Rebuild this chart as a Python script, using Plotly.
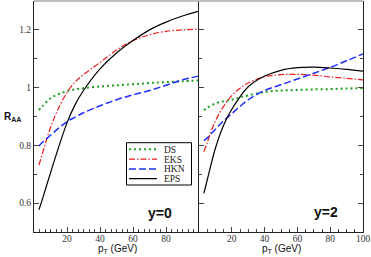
import plotly.graph_objects as go

pt = [3, 5, 10, 15, 20, 25, 30, 40, 50, 60, 70, 80, 90, 100]

# y = 0 panel
ds_y0 = [0.922, 0.935, 0.963, 0.978, 0.988, 0.994, 0.998, 1.004, 1.008, 1.012, 1.016, 1.019, 1.022, 1.025]
eks_y0 = [0.732, 0.77, 0.862, 0.93, 0.983, 1.02, 1.045, 1.087, 1.13, 1.163, 1.183, 1.195, 1.2, 1.203]
hkn_y0 = [0.798, 0.81, 0.835, 0.86, 0.882, 0.898, 0.913, 0.937, 0.958, 0.975, 0.99, 1.008, 1.027, 1.04]
eps_y0 = [0.577, 0.612, 0.705, 0.795, 0.878, 0.942, 0.99, 1.065, 1.12, 1.163, 1.2, 1.227, 1.248, 1.265]

# y = 2 panel
ds_y2 = [0.922, 0.93, 0.945, 0.953, 0.958, 0.966, 0.973, 0.985, 0.99, 0.992, 0.994, 0.995, 0.997, 0.998]
eks_y2 = [0.778, 0.81, 0.885, 0.935, 0.972, 0.998, 1.016, 1.038, 1.045, 1.046, 1.043, 1.037, 1.032, 1.027]
hkn_y2 = [0.816, 0.826, 0.856, 0.885, 0.91, 0.935, 0.958, 0.99, 1.01, 1.03, 1.05, 1.07, 1.093, 1.117]
eps_y2 = [0.634, 0.68, 0.79, 0.87, 0.925, 0.968, 1.003, 1.04, 1.06, 1.069, 1.071, 1.068, 1.063, 1.057]

names = ["DS", "EKS", "HKN", "EPS"]
colors = ["#1fa01f", "#ee1c1c", "#1f2fff", "#000000"]
dashes = ["2px,3px", "6px,2px,1.5px,2px", "7px,3px", "solid"]
widths = [2, 1.2, 1.5, 1.2]

y_tickvals = [0.6, 0.8, 1.0, 1.2]
y_ticktext = ["0.6", "0.8", "1", "1.2"]
x_tickvals_left = [20, 40, 60, 80]
x_tickvals_right = [20, 40, 60, 80, 100]

# legend key sample: unit span on its own small axis, one row per series
key_x = [0, 1]
key_rows = [0, 1, 2, 3]

W, H = 371, 257
L, R, T, B = 34, 8, 1, 25
PW, PH = W - L - R, H - T - B


def px_x(x):
    return (x - L) / PW


def px_y(y):
    return (H - B - y) / PH


fig = go.Figure()
left = [ds_y0, eks_y0, hkn_y0, eps_y0]
right = [ds_y2, eks_y2, hkn_y2, eps_y2]
for i in range(4):
    fig.add_trace(go.Scatter(x=pt, y=left[i], mode="lines", name=names[i],
                             line=dict(color=colors[i], dash=dashes[i], width=widths[i], shape="spline"),
                             xaxis="x", yaxis="y", showlegend=False))
for i in range(4):
    fig.add_trace(go.Scatter(x=pt, y=right[i], mode="lines", name=names[i],
                             line=dict(color=colors[i], dash=dashes[i], width=widths[i], shape="spline"),
                             xaxis="x2", yaxis="y2", showlegend=False))
for i in range(4):
    fig.add_trace(go.Scatter(x=key_x, y=[key_rows[i]] * 2, mode="lines", name=names[i],
                             line=dict(color=colors[i], dash=dashes[i], width=widths[i]),
                             xaxis="x3", yaxis="y3", showlegend=False, hoverinfo="skip"))

split = 165 / 329
tickfont = dict(family="Liberation Serif", size=9.5, color="#333")
axcommon = dict(showline=True, linecolor="#222", linewidth=1, showgrid=False, zeroline=False,
                ticks="inside", ticklen=5, tickcolor="#444", tickfont=tickfont)
hidden = dict(visible=False, showgrid=False, zeroline=False)

fig.update_layout(
    width=W, height=H,
    margin=dict(l=L, r=R, t=T, b=B, autoexpand=False),
    paper_bgcolor="white", plot_bgcolor="rgba(0,0,0,0)",
    showlegend=False,
    xaxis=dict(domain=[0, split], range=[0, 100], anchor="y", tickvals=x_tickvals_left,
               ticklabelstandoff=-2,
               minor=dict(dtick=10 / 3, tick0=0, ticks="inside", ticklen=3, tickcolor="#444"), **axcommon),
    xaxis2=dict(domain=[split, 1], range=[0, 100], anchor="y2", tickvals=x_tickvals_right,
                ticklabelstandoff=-2,
                minor=dict(dtick=5, tick0=0, ticks="inside", ticklen=3, tickcolor="#444"), **axcommon),
    yaxis=dict(domain=[0, 1], range=[0.5, 1.3], anchor="x", tickvals=y_tickvals, ticktext=y_ticktext,
               minor=dict(dtick=0.1, tick0=0.5, ticks="inside", ticklen=3, tickcolor="#444"), **axcommon),
    yaxis2=dict(domain=[0, 1], range=[0.5, 1.3], anchor="x2", tickvals=y_tickvals, showticklabels=False,
                mirror="ticks",
                minor=dict(dtick=0.1, tick0=0.5, ticks="inside", ticklen=3, tickcolor="#444"), **axcommon),
    xaxis3=dict(domain=[px_x(129), px_x(157)], range=[0, 1], anchor="y3", **hidden),
    yaxis3=dict(domain=[px_y(183.6), px_y(144.4)], range=[3.5, -0.5], anchor="x3", **hidden),
)

# legend frame
fig.add_shape(type="rect", xref="paper", yref="paper", x0=px_x(126.5), x1=px_x(191.5),
              y0=px_y(185), y1=px_y(142.7), line=dict(color="#000", width=1),
              fillcolor="white", layer="below")
for i in range(4):
    fig.add_annotation(text=names[i], xref="paper", yref="y3", x=px_x(162), y=key_rows[i],
                       xanchor="left", yanchor="middle", showarrow=False, height=9,
                       font=dict(family="Liberation Serif", size=9.5, color="#222"))

# grey top edge
fig.add_shape(type="line", xref="paper", yref="paper", x0=0, x1=1, y0=1, y1=1,
              line=dict(color="#aaa", width=1.5))

sans = "Liberation Sans"
fig.add_annotation(text="<b>R<sub>AA</sub></b>", xref="paper", yref="paper",
                   x=px_x(2), y=px_y(117), xanchor="left", yanchor="middle",
                   showarrow=False, font=dict(family=sans, size=10, color="#111"))
for cx in [117, 281]:
    fig.add_annotation(text="p<sub>T</sub> (GeV)", xref="paper", yref="paper",
                       x=px_x(cx), y=px_y(249.5), xanchor="center", yanchor="middle",
                       showarrow=False, font=dict(family=sans, size=10, color="#111"))
fig.add_annotation(text="<b>y=0</b>", xref="paper", yref="paper", x=px_x(160),
                   y=px_y(212.5), xanchor="center", yanchor="middle", showarrow=False,
                   font=dict(family=sans, size=14, color="#111"))
fig.add_annotation(text="<b>y=2</b>", xref="paper", yref="paper", x=px_x(326),
                   y=px_y(211.5), xanchor="center", yanchor="middle", showarrow=False,
                   font=dict(family=sans, size=14, color="#111"))

fig.write_html("out.html", config={"displayModeBar": False},
               post_script="document.body.style.margin='0';document.body.style.overflow='hidden';")
